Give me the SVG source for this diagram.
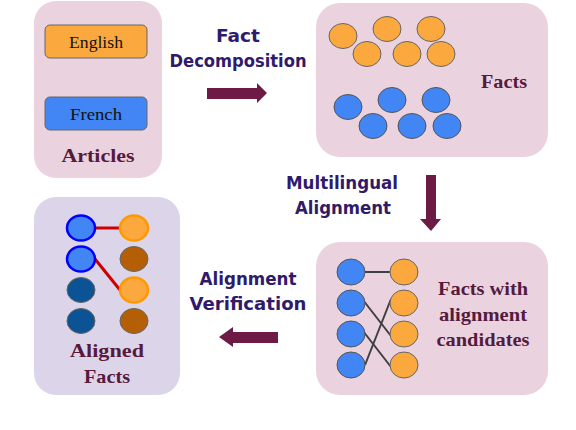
<svg xmlns="http://www.w3.org/2000/svg" width="576" height="430" viewBox="0 0 576 430">
<style>
.box{fill:#ead3de}
.lav{fill:#dcd4e8}
.or{fill:#fba93f;stroke:#666;stroke-width:1}
.bl{fill:#4285f4;stroke:#555;stroke-width:1}
.lbl{font-family:"Liberation Serif",serif;font-weight:bold;font-size:19px;fill:#561a3e;text-anchor:middle}
.lang{font-family:"Liberation Serif",serif;font-size:17px;fill:#111;text-anchor:middle}
.step{font-family:"Comic Sans MS","DejaVu Sans",sans-serif;font-weight:bold;font-size:18px;fill:#2f1a6b;text-anchor:middle}
.arr{fill:#6d1b45}
.cand{stroke:#404040;stroke-width:2;fill:none}
.red{stroke:#cc0000;stroke-width:3;fill:none}
</style>
<rect width="576" height="430" fill="#fff"/>

<g id="articles">
<rect class="box" x="34" y="1" width="128" height="177" rx="22"/>
<rect x="45" y="25" width="102" height="33" rx="5" fill="#fba93f" stroke="#666"/>
<text class="lang" x="96" y="48" textLength="54" lengthAdjust="spacingAndGlyphs">English</text>
<rect x="45" y="97" width="102" height="33" rx="5" fill="#4285f4" stroke="#666"/>
<text class="lang" x="96" y="120" textLength="52" lengthAdjust="spacingAndGlyphs">French</text>
<text class="lbl" x="98" y="162" textLength="73" lengthAdjust="spacingAndGlyphs">Articles</text>
</g>

<g id="facts">
<rect class="box" x="316" y="3" width="232" height="154" rx="24"/>
<ellipse class="or" cx="343" cy="36" rx="14" ry="12.5"/>
<ellipse class="or" cx="387" cy="29" rx="14" ry="12.5"/>
<ellipse class="or" cx="431" cy="29" rx="14" ry="12.5"/>
<ellipse class="or" cx="367" cy="54" rx="14" ry="12.5"/>
<ellipse class="or" cx="407" cy="54" rx="14" ry="12.5"/>
<ellipse class="or" cx="441" cy="54" rx="14" ry="12.5"/>
<ellipse class="bl" cx="348" cy="107" rx="14" ry="12.5"/>
<ellipse class="bl" cx="392" cy="100" rx="14" ry="12.5"/>
<ellipse class="bl" cx="436" cy="100" rx="14" ry="12.5"/>
<ellipse class="bl" cx="373" cy="126" rx="14" ry="12.5"/>
<ellipse class="bl" cx="412" cy="126" rx="14" ry="12.5"/>
<ellipse class="bl" cx="447" cy="126" rx="14" ry="12.5"/>
<text class="lbl" x="504" y="88" textLength="46" lengthAdjust="spacingAndGlyphs">Facts</text>
</g>

<g id="candidates">
<rect class="box" x="316" y="242" width="232" height="153" rx="24"/>
<g class="cand">
<line x1="365" y1="272" x2="390" y2="272"/>
<line x1="363" y1="300" x2="391" y2="336"/>
<line x1="363" y1="331" x2="391" y2="367"/>
<line x1="365" y1="365" x2="391" y2="299"/>
</g>
<ellipse class="bl" cx="351" cy="272" rx="14" ry="13"/>
<ellipse class="bl" cx="351" cy="303" rx="14" ry="13"/>
<ellipse class="bl" cx="351" cy="334" rx="14" ry="13"/>
<ellipse class="bl" cx="351" cy="365" rx="14" ry="13"/>
<ellipse class="or" cx="404" cy="272" rx="14" ry="13"/>
<ellipse class="or" cx="404" cy="303" rx="14" ry="13"/>
<ellipse class="or" cx="404" cy="334" rx="14" ry="13"/>
<ellipse class="or" cx="404" cy="365" rx="14" ry="13"/>
<text class="lbl" x="483" y="295" textLength="90" lengthAdjust="spacingAndGlyphs">Facts with</text>
<text class="lbl" x="483" y="321" textLength="88" lengthAdjust="spacingAndGlyphs">alignment</text>
<text class="lbl" x="483" y="346" textLength="93" lengthAdjust="spacingAndGlyphs">candidates</text>
</g>

<g id="aligned">
<rect class="lav" x="34" y="197" width="146" height="198" rx="22"/>
<line class="red" x1="95" y1="228" x2="121" y2="228"/>
<line class="red" x1="95" y1="259" x2="120" y2="290"/>
<ellipse cx="81" cy="228" rx="14" ry="12.5" fill="#4285f4" stroke="#0000ff" stroke-width="2.5"/>
<ellipse cx="81" cy="259" rx="14" ry="12.5" fill="#4285f4" stroke="#0000ff" stroke-width="2.5"/>
<ellipse cx="81" cy="290" rx="14" ry="12.5" fill="#0b5394" stroke="#666"/>
<ellipse cx="81" cy="321" rx="14" ry="12.5" fill="#0b5394" stroke="#666"/>
<ellipse cx="134" cy="228" rx="14" ry="12.5" fill="#fba93f" stroke="#ff9900" stroke-width="2.5"/>
<ellipse cx="134" cy="259" rx="14" ry="12.5" fill="#b45f06" stroke="#666"/>
<ellipse cx="134" cy="290" rx="14" ry="12.5" fill="#fba93f" stroke="#ff9900" stroke-width="2.5"/>
<ellipse cx="134" cy="321" rx="14" ry="12.5" fill="#b45f06" stroke="#666"/>
<text class="lbl" x="107" y="357" textLength="74" lengthAdjust="spacingAndGlyphs">Aligned</text>
<text class="lbl" x="107" y="383" textLength="46" lengthAdjust="spacingAndGlyphs">Facts</text>
</g>

<g id="connectors">
<g id="decomp">
<text class="step" x="238" y="42" textLength="44" lengthAdjust="spacingAndGlyphs">Fact</text>
<text class="step" x="238" y="67" textLength="137" lengthAdjust="spacingAndGlyphs">Decomposition</text>
<polygon class="arr" points="207,88 257,88 257,83 267,93 257,103 257,99 207,99"/>
</g>
<g id="multi">
<text class="step" x="342" y="189" textLength="112" lengthAdjust="spacingAndGlyphs">Multilingual</text>
<text class="step" x="343" y="214" textLength="96" lengthAdjust="spacingAndGlyphs">Alignment</text>
<polygon class="arr" points="426,175 436,175 436,219 441,219 431,231 420,219 426,219"/>
</g>
<g id="verif">
<text class="step" x="248" y="285" textLength="97" lengthAdjust="spacingAndGlyphs">Alignment</text>
<text class="step" x="248" y="310" textLength="117" lengthAdjust="spacingAndGlyphs">Verification</text>
<polygon class="arr" points="278,332 233,332 233,327 219,337 233,347 233,343 278,343"/>
</g>
</g>
</svg>
